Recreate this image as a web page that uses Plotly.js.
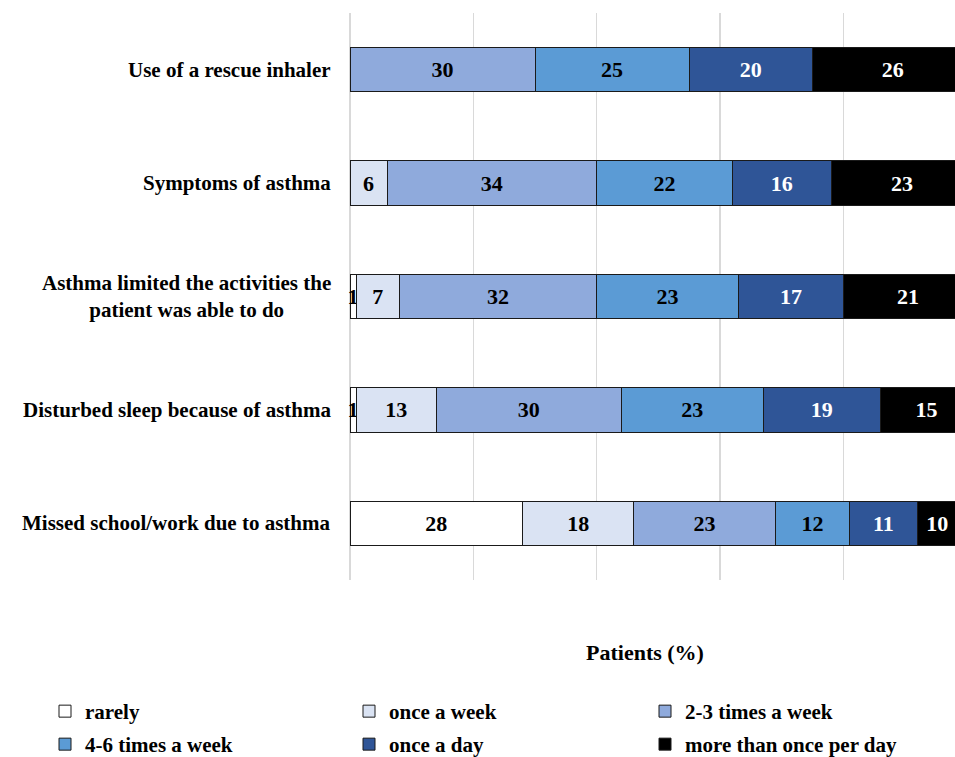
<!DOCTYPE html>
<html>
<head>
<meta charset="utf-8">
<script src="https://cdn.plot.ly/plotly-3.0.1.min.js"></script>
<style>html,body{margin:0;padding:0;overflow:hidden;background:#fff;width:955px;height:757px}</style>
</head>
<body>
<div id="chart" style="width:980px;height:757px"></div>
<script>
const categories = [
  "Use of a rescue inhaler",
  "Symptoms of asthma",
  "Asthma limited the activities the<br>patient was able to do",
  "Disturbed sleep because of asthma",
  "Missed school/work due to asthma"
];
const seriesNames = ["rarely", "once a week", "2-3 times a week", "4-6 times a week", "once a day", "more than once per day"];
const rarely = [0, 0, 1, 1, 28];
const onceAWeek = [0, 6, 7, 13, 18];
const twoThreeWeek = [30, 34, 32, 30, 23];
const fourSixWeek = [25, 22, 23, 23, 12];
const onceADay = [20, 16, 17, 19, 11];
const moreThanOnce = [26, 23, 21, 15, 10];

const seriesValues = [rarely, onceAWeek, twoThreeWeek, fourSixWeek, onceADay, moreThanOnce];
const colors = ["#ffffff", "#dae3f3", "#8faadc", "#5b9bd5", "#2f5597", "#000000"];
const textColors = ["#000000", "#000000", "#000000", "#000000", "#ffffff", "#ffffff"];
const FONT = "Liberation Serif, Times New Roman, serif";
const XMAX = 102;
const PX_PER_UNIT = 6.1625;
const W = Math.round(350 + XMAX * PX_PER_UNIT), H = 757;

const totals = categories.map((c, j) => seriesValues.reduce((s, arr) => s + arr[j], 0));
const NB = "\u00A0";

// legend placement (pixels in the container) for each series
const legendPos = [[45, 691], [349, 691], [645, 691], [45, 724], [349, 724], [645, 724]];
const legendIds = ["legend", "legend2", "legend3", "legend4", "legend5", "legend6"];

const traces = seriesValues.map((vals, i) => ({
  type: "bar",
  orientation: "h",
  name: seriesNames[i],
  legend: legendIds[i],
  y: categories,
  x: vals,
  text: vals.map((v, j) => {
    if (v <= 0) return "";
    // last segment running past the visible edge: nudge its label left
    if (i === seriesValues.length - 1 && totals[j] > 101) return String(v) + NB + NB + NB + NB;
    return String(v);
  }),
  textposition: "inside",
  insidetextanchor: "middle",
  constraintext: "none",
  textangle: 0,
  textfont: {family: FONT, size: 22, color: textColors[i], weight: "bold"},
  marker: {color: colors[i], line: {color: "#1a1a1a", width: 1}},
  hoverinfo: "x+name",
  cliponaxis: false
}));

const annotations = categories.map(c => ({
  x: 0, y: c, xref: "x", yref: "y",
  text: "<b>" + c + "</b>",
  showarrow: false, xanchor: "right", yanchor: "middle",
  align: "center", xshift: -17,
  font: {family: FONT, size: 21, color: "#000"}
}));
annotations.push({
  xref: "paper", yref: "paper",
  x: (645 - 350) / (W - 350), y: -(652 - 580) / 567,
  xanchor: "center", yanchor: "middle",
  text: "<b>Patients (%)</b>", showarrow: false,
  font: {family: FONT, size: 22, color: "#000"}
});

const layout = {
  width: W, height: H,
  margin: {l: 350, r: 0, t: 13, b: 177},
  barmode: "stack",
  bargap: 0.61,
  showlegend: true,
  plot_bgcolor: "#fff", paper_bgcolor: "#fff",
  xaxis: {
    range: [0, XMAX],
    dtick: 20, tick0: 0,
    showgrid: true, gridcolor: "#d9d9d9", gridwidth: 1.3,
    showticklabels: false, ticks: "",
    zeroline: true, zerolinecolor: "#d9d9d9", zerolinewidth: 1.3,
    showline: false
  },
  yaxis: {
    type: "category",
    categoryorder: "array",
    categoryarray: categories,
    autorange: "reversed",
    showticklabels: false, ticks: "",
    showgrid: false, zeroline: false, showline: false
  },
  annotations: annotations,
  font: {family: FONT}
};

legendIds.forEach((id, i) => {
  layout[id] = {
    orientation: "h",
    xref: "container", yref: "container",
    x: legendPos[i][0] / W, y: 1 - legendPos[i][1] / H,
    xanchor: "left", yanchor: "top",
    font: {family: FONT, size: 21, color: "#000", weight: "bold"},
    itemwidth: 30,
    bgcolor: "rgba(0,0,0,0)"
  };
});

Plotly.newPlot("chart", traces, layout, {displayModeBar: false, staticPlot: true});
</script>
</body>
</html>
